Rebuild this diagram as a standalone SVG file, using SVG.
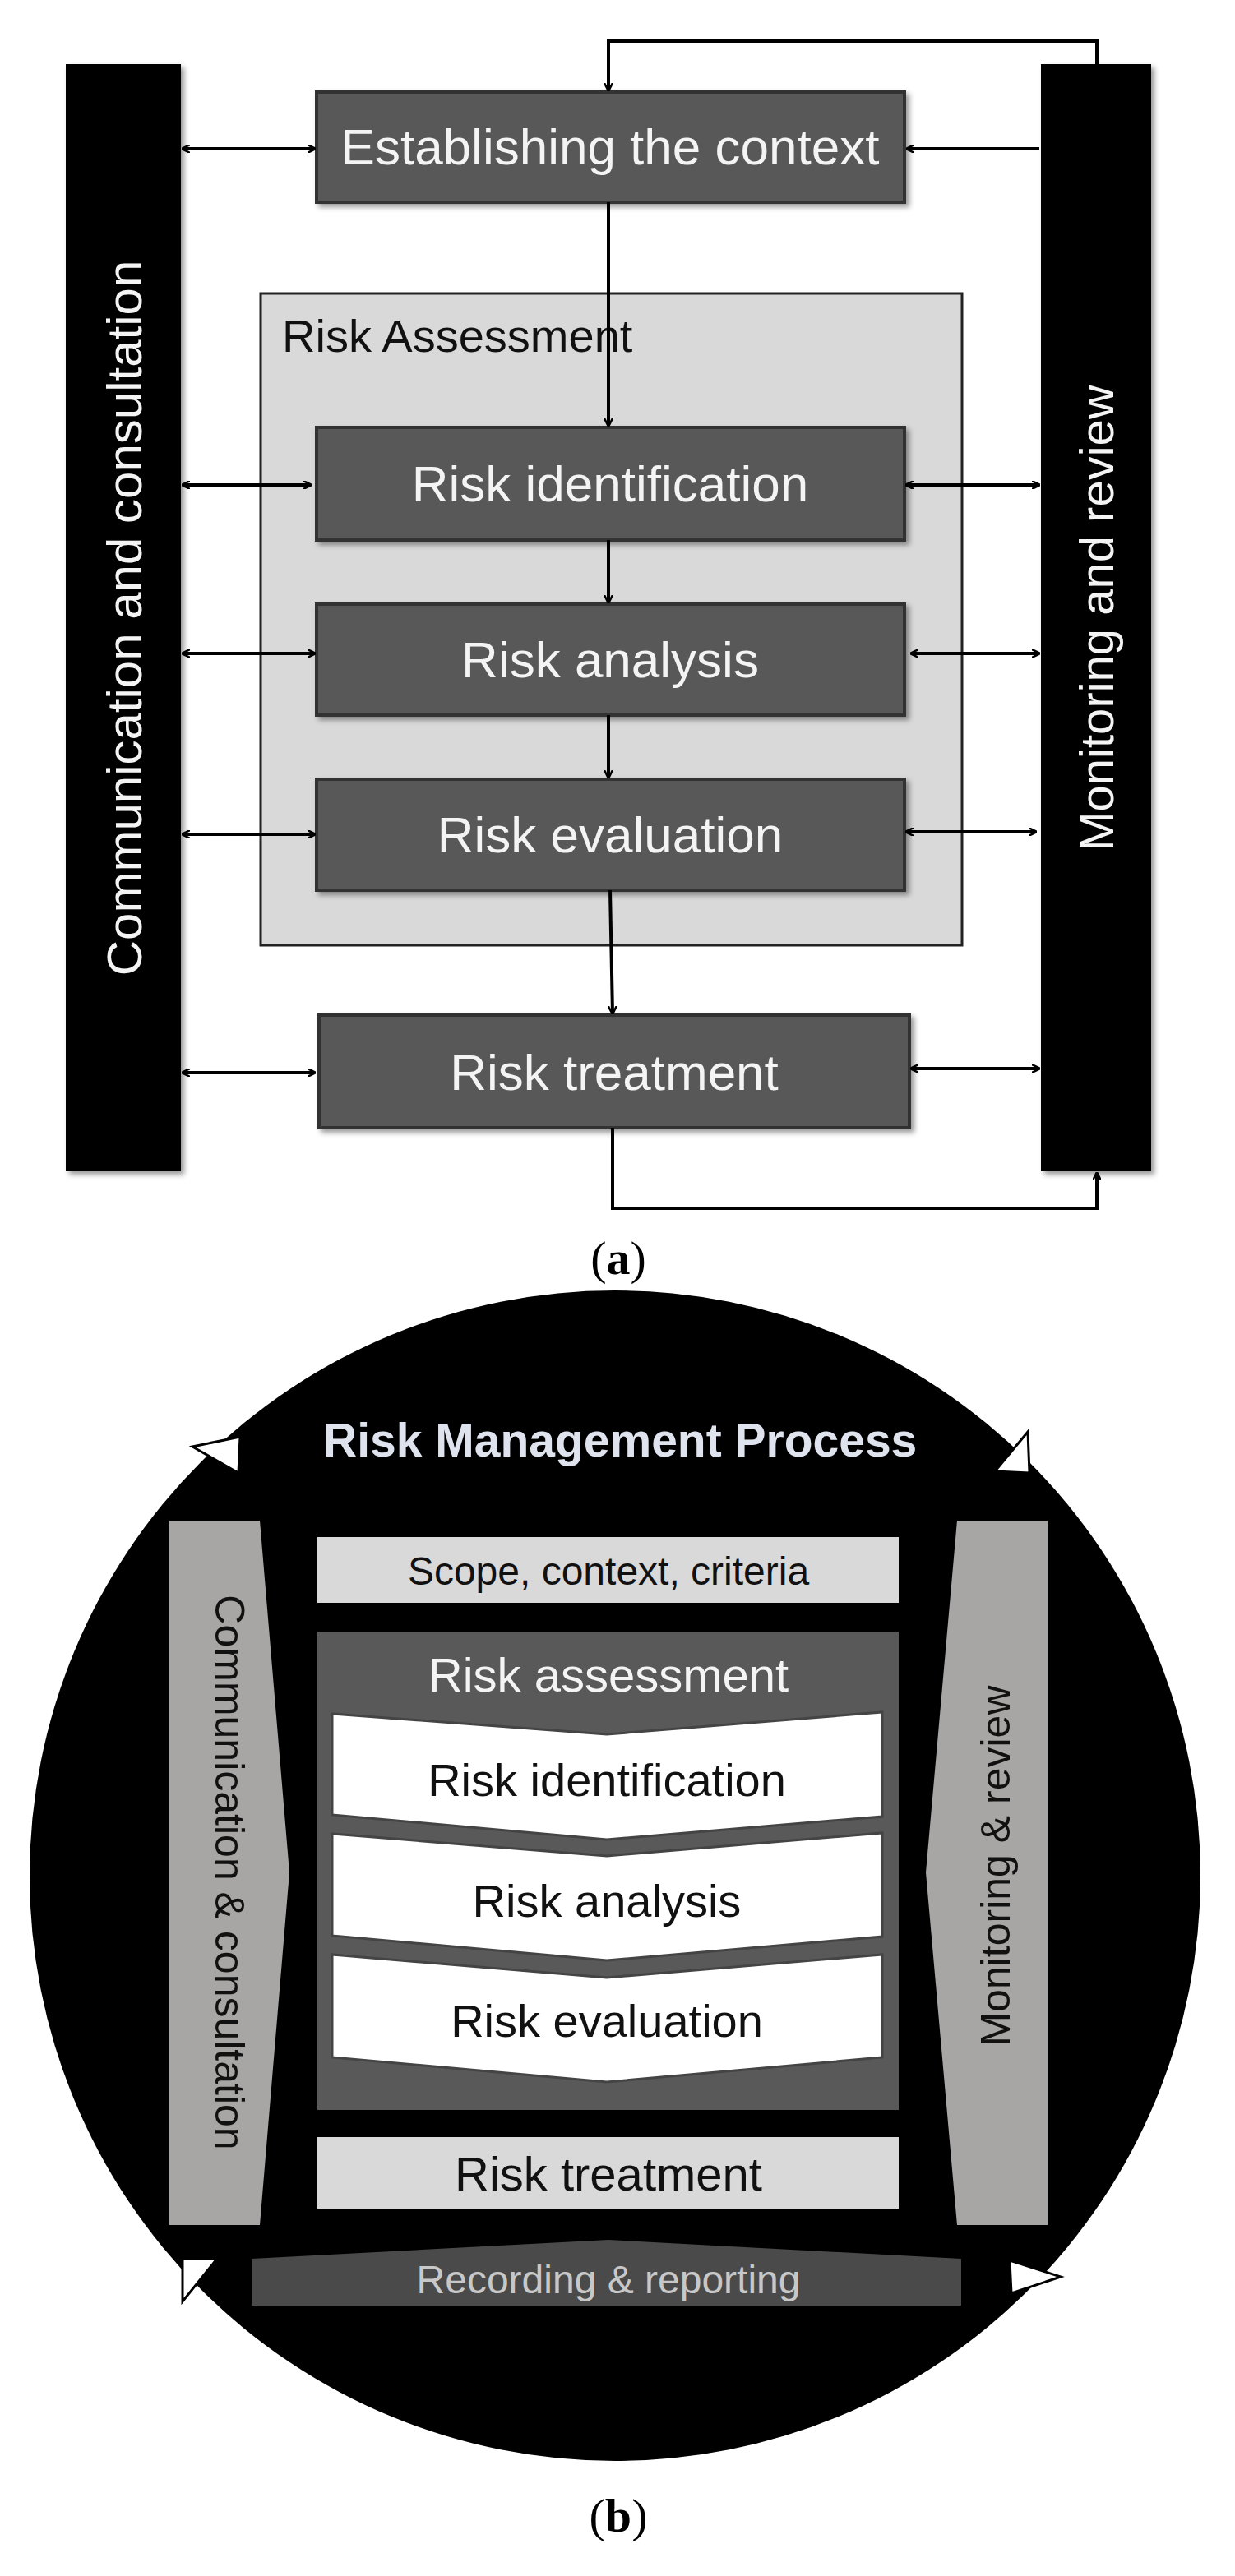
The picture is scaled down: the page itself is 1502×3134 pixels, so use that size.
<svg xmlns="http://www.w3.org/2000/svg" width="1502" height="3134" viewBox="0 0 1502 3134">
<style>
.bx{fill:#595959;stroke:#333;stroke-width:4}
.wt{fill:#f4f4f4;font-family:"Liberation Sans",Arial,sans-serif;text-anchor:middle}
.dk{fill:#111;font-family:"Liberation Sans",Arial,sans-serif;text-anchor:middle}
.ln{stroke:#000;stroke-width:4;fill:none}
.lab{font-family:"Liberation Serif","Times New Roman",serif;font-size:58px;text-anchor:middle;fill:#000}
.tri{fill:#fff;stroke:#000;stroke-width:3}
</style>
<defs>
<marker id="ah" markerWidth="10" markerHeight="10" refX="9" refY="5" orient="auto-start-reverse" markerUnits="userSpaceOnUse" viewBox="0 0 10 10"><path d="M0,0 L10,5 L0,10" fill="none" stroke="#000" stroke-width="2.5"/></marker>
<filter id="sh"><feDropShadow dx="4" dy="4" stdDeviation="3" flood-opacity="0.4"/></filter>
</defs>
<rect width="1502" height="3134" fill="#fff"/>
<!-- (a) -->
<g id="comm-a"><rect x="80" y="78" width="140" height="1347" fill="#000" filter="url(#sh)"/>
<text class="wt" font-size="60" transform="translate(172,752) rotate(-90)">Communication and consultation</text></g>
<g id="mon-a"><rect x="1266" y="78" width="134" height="1347" fill="#000" filter="url(#sh)"/>
<text class="wt" font-size="58" transform="translate(1354,752) rotate(-90)">Monitoring and review</text></g>
<g id="ra-a"><rect x="317" y="357" width="853" height="793" fill="#d9d9d9" stroke="#222" stroke-width="3"/>
<text x="343" y="428" font-size="56" font-family="Liberation Sans,Arial,sans-serif" fill="#111">Risk Assessment</text></g>
<g id="est"><rect class="bx" x="385" y="112" width="715" height="134" filter="url(#sh)"/><text class="wt" x="742" y="200" font-size="62">Establishing the context</text></g>
<g id="ident"><rect class="bx" x="385" y="520" width="715" height="137" filter="url(#sh)"/><text class="wt" x="742" y="610" font-size="62">Risk identification</text></g>
<g id="anal"><rect class="bx" x="385" y="735" width="715" height="135" filter="url(#sh)"/><text class="wt" x="742" y="824" font-size="62">Risk analysis</text></g>
<g id="eval"><rect class="bx" x="385" y="948" width="715" height="135" filter="url(#sh)"/><text class="wt" x="742" y="1037" font-size="62">Risk evaluation</text></g>
<g id="treat"><rect class="bx" x="388" y="1235" width="718" height="137" filter="url(#sh)"/><text class="wt" x="747" y="1326" font-size="62">Risk treatment</text></g>
<g id="connectors-a">
<path class="ln" d="M1334,78 V50 H740 V110" marker-end="url(#ah)"/>
<path class="ln" d="M740,246 V518" marker-end="url(#ah)"/>
<path class="ln" d="M740,657 V733" marker-end="url(#ah)"/>
<path class="ln" d="M740,870 V946" marker-end="url(#ah)"/>
<path class="ln" d="M742,1083 L745,1233" marker-end="url(#ah)"/>
<path class="ln" d="M745,1372 V1470 H1334 V1427" marker-end="url(#ah)"/>
<path class="ln" d="M222,181 H383" marker-start="url(#ah)" marker-end="url(#ah)"/>
<path class="ln" d="M222,590 H378" marker-start="url(#ah)" marker-end="url(#ah)"/>
<path class="ln" d="M222,795 H383" marker-start="url(#ah)" marker-end="url(#ah)"/>
<path class="ln" d="M222,1015 H383" marker-start="url(#ah)" marker-end="url(#ah)"/>
<path class="ln" d="M222,1305 H383" marker-start="url(#ah)" marker-end="url(#ah)"/>
<path class="ln" d="M1264,181 H1103" marker-end="url(#ah)"/>
<path class="ln" d="M1102,590 H1264" marker-start="url(#ah)" marker-end="url(#ah)"/>
<path class="ln" d="M1108,795 H1264" marker-start="url(#ah)" marker-end="url(#ah)"/>
<path class="ln" d="M1102,1012 H1260" marker-start="url(#ah)" marker-end="url(#ah)"/>
<path class="ln" d="M1108,1300 H1264" marker-start="url(#ah)" marker-end="url(#ah)"/>
</g>
<text class="lab" x="752" y="1550">(<tspan font-weight="bold">a</tspan>)</text>
<!-- (b) -->
<g id="circle"><circle cx="748" cy="2282" r="712" fill="#000"/></g>
<g id="title"><text x="393" y="1772" font-size="57" font-weight="bold" font-family="Liberation Sans,Arial,sans-serif" fill="#dfe3ee">Risk Management Process</text></g>
<g id="arrows-b">
<polygon class="tri" points="234,1760 292,1748 290,1792"/>
<polygon class="tri" points="1210,1790 1250,1742 1252,1792"/>
<polygon class="tri" points="222,2748 264,2748 222,2800"/>
<polygon class="tri" points="1228,2750 1290,2770 1230,2790"/>
</g>
<g id="comm-b"><polygon points="206,1850 316,1850 352,2278 316,2707 206,2707" fill="#a8a5a5"/>
<text class="dk" font-size="50" fill="#222" transform="translate(262,2278) rotate(90)">Communication &amp; consultation</text></g>
<g id="mon-b"><polygon points="1164,1850 1274,1850 1274,2707 1164,2707 1126,2278" fill="#a8a5a5"/>
<text class="dk" font-size="50" fill="#222" transform="translate(1228,2270) rotate(-90)">Monitoring &amp; review</text></g>
<g id="scope"><rect x="386" y="1870" width="707" height="80" fill="#d9d9d9"/><text class="dk" x="740" y="1928" font-size="48">Scope, context, criteria</text></g>
<g id="ra-b"><rect x="386" y="1985" width="707" height="582" fill="#595959"/><text class="wt" x="740" y="2058" font-size="58">Risk assessment</text></g>
<g id="ident-b"><polygon points="404,2085 738,2110 1073,2083 1073,2210 738,2238 404,2208" fill="#fff" stroke="#444" stroke-width="3"/><text class="dk" x="738" y="2185" font-size="56">Risk identification</text></g>
<g id="anal-b"><polygon points="404,2231 738,2258 1073,2230 1073,2356 738,2385 404,2355" fill="#fff" stroke="#444" stroke-width="3"/><text class="dk" x="738" y="2332" font-size="56">Risk analysis</text></g>
<g id="eval-b"><polygon points="404,2378 738,2406 1073,2378 1073,2503 738,2533 404,2503" fill="#fff" stroke="#444" stroke-width="3"/><text class="dk" x="738" y="2478" font-size="56">Risk evaluation</text></g>
<g id="treat-b"><rect x="386" y="2600" width="707" height="87" fill="#d9d9d9"/><text class="dk" x="740" y="2665" font-size="58">Risk treatment</text></g>
<g id="rec"><polygon points="306,2748 740,2725 1169,2748 1169,2805 306,2805" fill="#4a4a4a"/><text x="740" y="2790" font-size="48" text-anchor="middle" font-family="Liberation Sans,Arial,sans-serif" fill="#c8c8c8">Recording &amp; reporting</text></g>
<text class="lab" x="752" y="3080">(<tspan font-weight="bold">b</tspan>)</text>
</svg>
